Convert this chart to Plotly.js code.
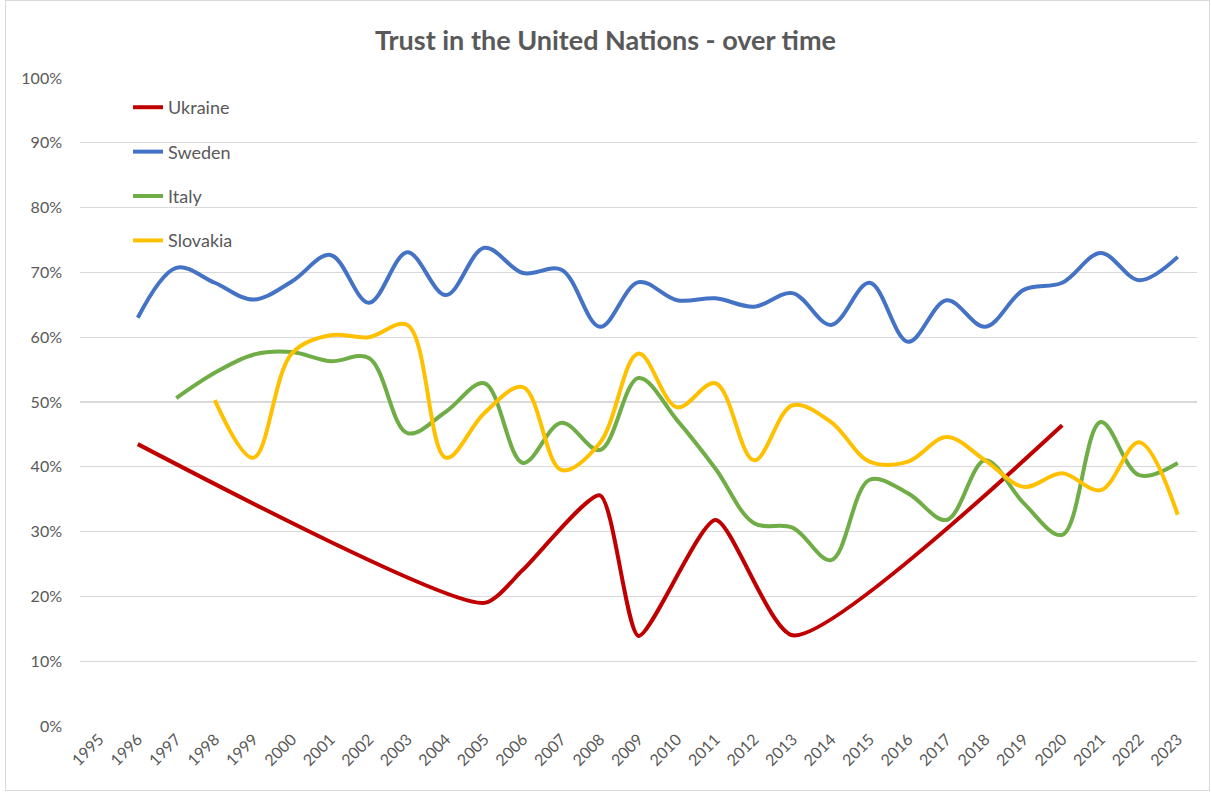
<!DOCTYPE html>
<html>
<head>
<meta charset="utf-8">
<script src="https://cdn.plot.ly/plotly-3.0.1.min.js"></script>
<style>
  html, body { margin: 0; padding: 0; background: #fff; }
  #chart { width: 1211px; height: 792px; }
  #frame { position: absolute; left: 5px; top: 0px; width: 1203px; height: 789px; border: 1px solid #d9d9d9; pointer-events: none; }
</style>
</head>
<body>
<div id="chart"></div>
<div id="frame"></div>
<script>
const years = [1995,1996,1997,1998,1999,2000,2001,2002,2003,2004,2005,2006,2007,2008,2009,2010,2011,2012,2013,2014,2015,2016,2017,2018,2019,2020,2021,2022,2023];
const yearLabels = years.map(String);

const ukraine = [null,43.5,null,null,null,null,null,null,null,null,19.0,24.1,null,35.6,13.9,null,31.8,null,14.0,null,null,null,null,null,null,46.4,null,null,null];
const sweden  = [null,63.0,70.7,68.4,65.8,68.6,72.7,65.3,73.1,66.5,73.8,69.9,70.4,61.6,68.5,65.7,66.0,64.7,66.8,61.9,68.4,59.3,65.7,61.6,67.3,68.4,73.0,68.8,72.4];
const italy   = [null,null,50.6,54.5,57.3,57.7,56.3,56.8,45.2,48.5,52.9,40.6,46.8,42.6,53.7,47.2,39.7,31.3,30.6,25.6,38.0,35.9,31.8,41.0,34.4,29.5,46.9,38.7,40.6];
const slovakia= [null,null,null,50.3,41.4,57.5,60.3,60.0,61.9,41.4,48.3,52.3,39.5,43.7,57.5,49.2,52.9,41.0,49.5,46.9,40.8,40.8,44.6,41.0,36.9,39.0,36.4,43.8,32.6];

const seriesNames = ["Ukraine","Sweden","Italy","Slovakia"];
const seriesData = [ukraine, sweden, italy, slovakia];
const seriesColors = ["#C00000","#4472C4","#70AD47","#FFC000"];
const seriesSmoothing = [0.6, 1.0, 1.0, 1.0];

const traces = seriesNames.map((name, i) => ({
  type: "scatter",
  mode: "lines",
  name: name,
  legendgroup: name,
  x: years,
  y: seriesData[i].map(v => v === null ? null : v / 100),
  connectgaps: true,
  line: { color: seriesColors[i], width: 4, shape: "spline", smoothing: seriesSmoothing[i] },
  hoverinfo: "x+y+name"
}));

const layout = {
  width: 1211,
  height: 792,
  paper_bgcolor: "#ffffff",
  plot_bgcolor: "#ffffff",
  margin: { l: 80, r: 14, t: 78, b: 66 },
  font: { family: "Lato, 'Open Sans', sans-serif", color: "#595959", size: 15 },
  title: {
    text: "<b>Trust in the United Nations - over time</b>",
    x: 0.5, xanchor: "center",
    y: 0.949, yanchor: "middle",
    font: { size: 27, color: "#595959", family: "Lato, 'Open Sans', sans-serif" }
  },
  showlegend: true,
  legend: {
    x: 0.043, xanchor: "left",
    y: 0.983, yanchor: "top",
    bgcolor: "rgba(0,0,0,0)",
    font: { size: 18, color: "#595959" },
    tracegroupgap: 18,
    itemwidth: 30
  },
  xaxis: {
    type: "linear",
    range: [1994.5, 2023.5],
    tickmode: "array",
    tickvals: years,
    ticktext: yearLabels,
    tickangle: -45,
    showgrid: false,
    zeroline: false,
    showline: false,
    ticks: "",
    tickfont: { size: 16, color: "#595959" },
    fixedrange: true
  },
  yaxis: {
    range: [0, 1],
    tickmode: "linear",
    tick0: 0,
    dtick: 0.1,
    tickformat: ".0%",
    showgrid: true,
    gridcolor: "#d9d9d9",
    gridwidth: 1.3,
    zeroline: false,
    showline: false,
    ticks: "",
    ticklabelstandoff: 17,
    tickfont: { size: 16, color: "#595959" },
    fixedrange: true
  }
};

Plotly.newPlot("chart", traces, layout, { displayModeBar: false, staticPlot: true });
</script>
</body>
</html>
